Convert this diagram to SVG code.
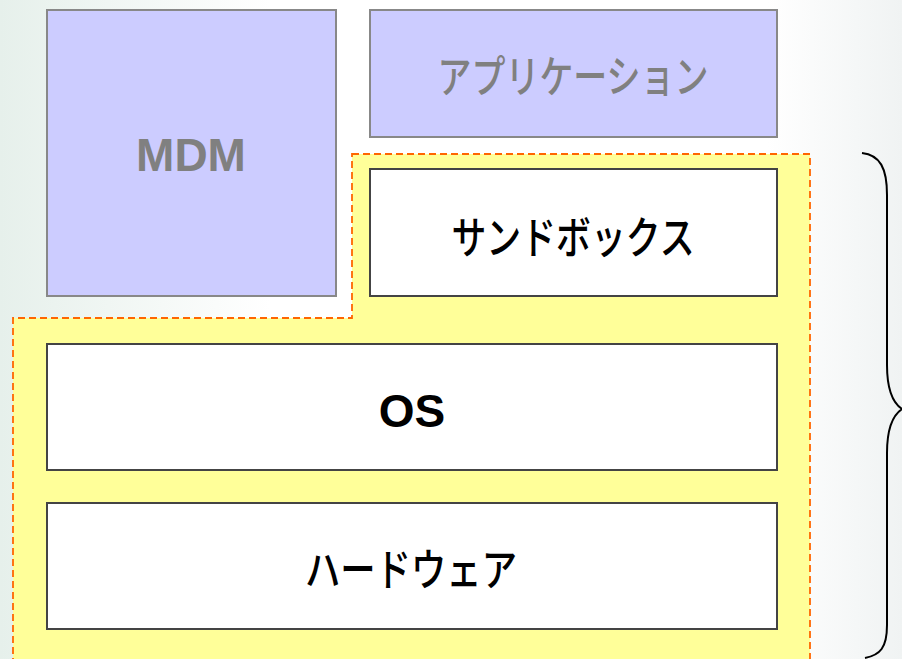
<svg xmlns="http://www.w3.org/2000/svg" width="902" height="659" viewBox="0 0 902 659">
<defs>
<linearGradient id="bg" x1="0" y1="0" x2="1" y2="0">
<stop offset="0" stop-color="#e6f0eb"/>
<stop offset="0.3" stop-color="#ffffff"/>
<stop offset="0.85" stop-color="#ffffff"/>
<stop offset="1" stop-color="#f0f3f3"/>
</linearGradient>
<style>
.app{fill:#ccccff;stroke:#888888;stroke-width:2}
.layer{fill:#ffffff;stroke:#444444;stroke-width:2}
.gl{font-family:"Liberation Sans","Noto Sans CJK JP",sans-serif;font-weight:bold;font-size:46px;fill:#808080;text-anchor:middle}
.bl{font-family:"Liberation Sans","Noto Sans CJK JP",sans-serif;font-weight:bold;font-size:46px;fill:#000000;text-anchor:middle}
.jg{font-family:"Noto Sans CJK JP",sans-serif;font-weight:500;font-size:44px;fill:#808080;text-anchor:middle}
.jb{font-family:"Noto Sans CJK JP",sans-serif;font-weight:500;font-size:44px;fill:#000000;text-anchor:middle}
</style>
</defs>
<rect x="0" y="0" width="902" height="659" fill="url(#bg)"/>
<g id="trusted-zone">
<path d="M352,154 H810 V662 H13 V318 H352 Z" fill="#ffff99" stroke="#ff6600" stroke-width="1.8" stroke-dasharray="7,4"/>
</g>
<g id="mdm">
<rect class="app" x="47" y="10" width="289" height="286"/>
<text class="gl" x="191" y="171">MDM</text>
</g>
<g id="application">
<rect class="app" x="370" y="10" width="407" height="127"/>
<text class="jg" x="573" y="93" textLength="271" lengthAdjust="spacingAndGlyphs">アプリケーション</text>
</g>
<g id="sandbox">
<rect class="layer" x="370" y="169" width="407" height="127"/>
<text class="jb" x="573" y="254" textLength="243" lengthAdjust="spacingAndGlyphs">サンドボックス</text>
</g>
<g id="os">
<rect class="layer" x="47" y="344" width="730" height="126"/>
<text class="bl" x="412" y="427">OS</text>
</g>
<g id="hardware">
<rect class="layer" x="47" y="503" width="730" height="126"/>
<text class="jb" x="411" y="586" textLength="212" lengthAdjust="spacingAndGlyphs">ハードウェア</text>
</g>
<g id="connectors">
<path d="M862,153 C880,155 887,168 887,195 V365 C887,390 893,403 902,409 C893,415 887,428 887,453 V625 C887,648 880,655 865,658" fill="none" stroke="#000000" stroke-width="2"/>
</g>
</svg>
